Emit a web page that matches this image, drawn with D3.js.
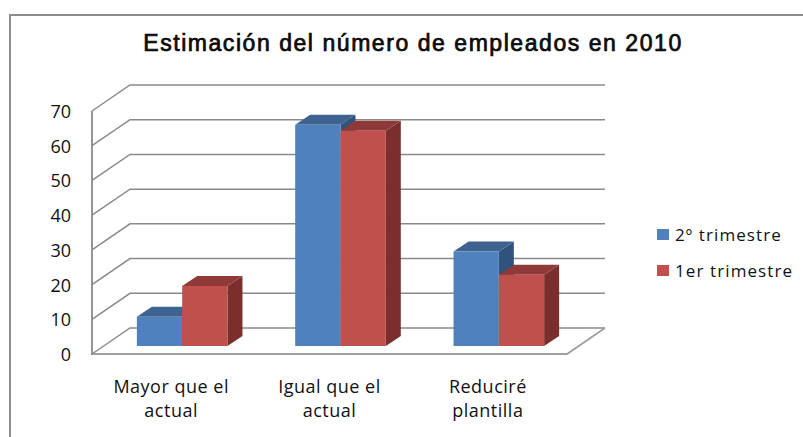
<!DOCTYPE html>
<html lang="es">
<head>
<meta charset="UTF-8">
<title>Estimación del número de empleados en 2010</title>
<script src="https://d3js.org/d3.v7.min.js"></script>
<style>
  html, body { margin: 0; padding: 0; background: #fff; }
  svg { display: block; }
  text { fill: #111; }
  .tick-label { font-family: "Open Sans", sans-serif; font-size: 18px; }
  .cat-label { font-family: "Open Sans", sans-serif; font-size: 18px; letter-spacing: 0.5px; }
  .legend-label { font-family: "Open Sans", sans-serif; font-size: 17px; letter-spacing: 1.1px; }
  .title { font-family: "Liberation Sans", Arial, sans-serif; font-size: 23px; letter-spacing: 1.55px; stroke: #000; stroke-width: 0.7px; }
</style>
</head>
<body>
<svg id="chart" width="803" height="437"></svg>
<script>
const categories = [["Mayor que el", "actual"], ["Igual que el", "actual"], ["Reduciré", "plantilla"]];
const seriesNames = ["2º trimestre", "1er trimestre"];
const q2Values = [8.4, 63.7, 27.2];
const q1Values = [17.3, 62, 20.5];
const yTicks = [0, 10, 20, 30, 40, 50, 60, 70];

const colors = [
  { front: "#4f81bd", top: "#3f6390", side: "#31527a" },
  { front: "#c0504d", top: "#8f3a38", side: "#7a2f2d" }
];

const svg = d3.select("#chart");

// only the top and left edges of the frame are in the picture
svg.append("path").attr("d", "M10 437V15H803")
   .attr("fill", "none").attr("stroke", "#8c8c8c").attr("stroke-width", 2);

svg.append("text").attr("class", "title").attr("x", 413).attr("y", 51)
   .attr("text-anchor", "middle").text("Estimación del número de empleados en 2010");

// front plane scales, the back wall is the same plane moved by depth
const x = d3.scaleBand().domain(d3.range(categories.length)).range([92, 567]);
const y = d3.scaleLinear().domain([0, 70]).range([354, 111]);
const depth = { x: 38, y: -26 };
const barPlane = { x: 11, y: -8 };
const barDepth = { x: 15, y: -10 };
const barWidth = 45.3;

const grid = svg.append("g").attr("fill", "none").attr("stroke", "#8a8a8a").attr("stroke-width", 1.5);
yTicks.forEach(t => {
  const path = d3.path();
  path.moveTo(x.range()[0], y(t));
  path.lineTo(x.range()[0] + depth.x, y(t) + depth.y);
  path.lineTo(x.range()[1] + depth.x, y(t) + depth.y);
  grid.append("path").attr("d", path.toString());
});
// floor
const floor = d3.path();
floor.moveTo(x.range()[0], y(0));
floor.lineTo(x.range()[1], y(0));
floor.lineTo(x.range()[1] + depth.x, y(0) + depth.y);
grid.append("path").attr("d", floor.toString()).attr("stroke", "#a0a0a0").attr("stroke-width", 1.8);
grid.append("line").attr("x1", x.range()[0]).attr("x2", x.range()[0])
    .attr("y1", y(0) + 1).attr("y2", y(70)).attr("stroke-width", 1.8);

// tick labels
svg.append("g").selectAll("text").data(yTicks).join("text")
   .attr("class", "tick-label").attr("x", 71).attr("y", d => y(d) + 7)
   .attr("text-anchor", "end").text(d => d);

// bars, series by series so the red one overlaps the blue side
[q2Values, q1Values].forEach((vals, s) => {
  const g = svg.append("g");
  vals.forEach((v, i) => {
    const x0 = x(i) + x.bandwidth() / 2 + barPlane.x + (s - 1) * barWidth;
    const x1 = x0 + barWidth;
    const y0 = y(v) + barPlane.y;
    const y1 = y(0) + barPlane.y;
    const dx = barDepth.x, dy = barDepth.y;
    g.append("polygon").attr("fill", colors[s].side)
     .attr("points", [[x1, y0], [x1 + dx, y0 + dy], [x1 + dx, y1 + dy], [x1, y1]].join(" "));
    g.append("polygon").attr("fill", colors[s].top)
     .attr("points", [[x0, y0], [x0 + dx, y0 + dy], [x1 + dx, y0 + dy], [x1, y0]].join(" "));
    g.append("rect").attr("fill", colors[s].front)
     .attr("x", x0).attr("y", y0).attr("width", barWidth).attr("height", y1 - y0);
  });
});

// category labels
categories.forEach((lines, i) => {
  const cx = x(i) + x.bandwidth() / 2;
  const t = svg.append("text").attr("class", "cat-label")
    .attr("text-anchor", "middle").attr("x", cx).attr("y", 393);
  lines.forEach((l, k) => t.append("tspan").attr("x", cx).attr("dy", k ? 24 : 0).text(l));
});

// legend
seriesNames.forEach((name, s) => {
  const ly = 234.5 + s * 36;
  svg.append("rect").attr("x", 657).attr("y", ly - 5.5).attr("width", 12).attr("height", 11)
     .attr("fill", colors[s].front);
  svg.append("text").attr("class", "legend-label").attr("x", 675).attr("y", ly + 6).text(name);
});
</script>
</body>
</html>
